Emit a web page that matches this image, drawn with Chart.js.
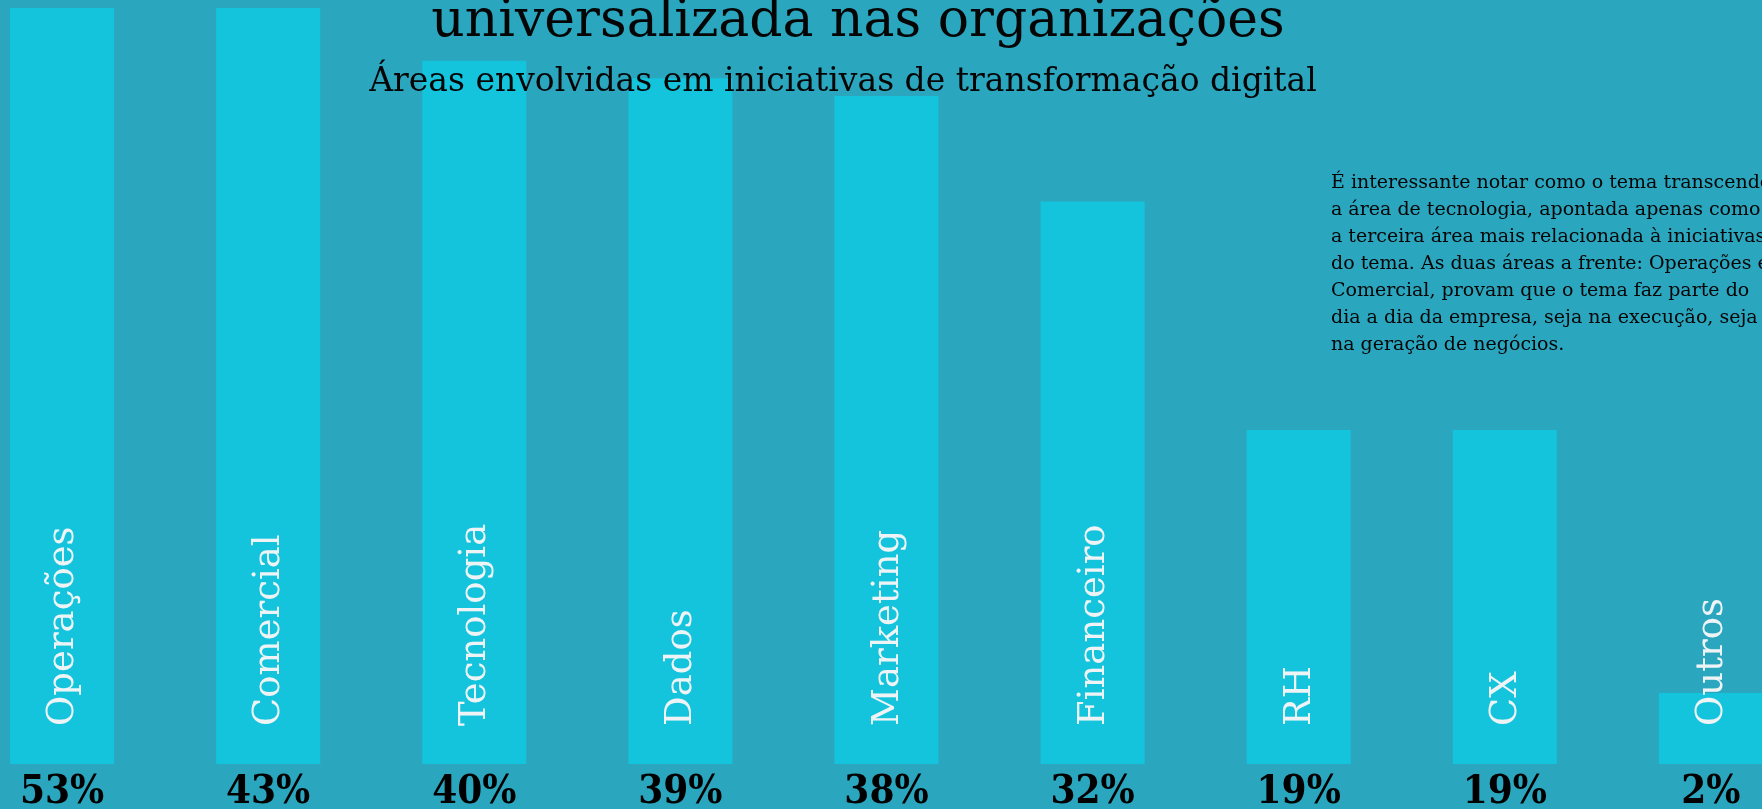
<!DOCTYPE html>
<html>
<head>
<meta charset="utf-8">
<script src="https://cdn.jsdelivr.net/npm/chart.js@4"></script>
<style>
  html, body { margin: 0; padding: 0; background: #2BA6BF; overflow: hidden; width: 1762px; height: 809px; }
  #wrap { position: absolute; left: -41px; top: 0; width: 1855px; height: 809px; }
</style>
</head>
<body>
<div id="wrap"><canvas id="c"></canvas></div>
<script>
const categories = ['Operações', 'Comercial', 'Tecnologia', 'Dados', 'Marketing', 'Financeiro', 'RH', 'CX', 'Outros'];
const shares = [53, 43, 40, 39, 38, 32, 19, 19, 2];
const tickLabels = ['53%', '43%', '40%', '39%', '38%', '32%', '19%', '19%', '2%'];
const titleLine = 'universalizada nas organizações';
const subtitleLine = 'Áreas envolvidas em iniciativas de transformação digital';
const noteLines = [
  'É interessante notar como o tema transcende',
  'a área de tecnologia, apontada apenas como',
  'a terceira área mais relacionada à iniciativas',
  'do tema. As duas áreas a frente: Operações e',
  'Comercial, provam que o tema faz parte do',
  'dia a dia da empresa, seja na execução, seja',
  'na geração de negócios.'
];

const OFFSET = 41; // canvas starts 41px left of the page

const textPlugin = {
  id: 'textPlugin',
  afterDatasetsDraw(chart) {
    const ctx = chart.ctx;
    const meta = chart.getDatasetMeta(0);
    ctx.save();
    // category names inside bars
    ctx.fillStyle = '#EEF4F5';
    ctx.font = '37px "DejaVu Serif"';
    ctx.textAlign = 'left';
    ctx.textBaseline = 'alphabetic';
    meta.data.forEach((bar, i) => {
      ctx.save();
      ctx.translate(bar.x + 11, chart.chartArea.bottom - 38);
      ctx.rotate(-Math.PI / 2);
      ctx.fillText(categories[i], 0, 0);
      ctx.restore();
    });
    // title
    ctx.fillStyle = '#050505';
    ctx.textAlign = 'center';
    ctx.font = '52px "DejaVu Serif"';
    ctx.fillText(titleLine, 858 + OFFSET, 36);
    ctx.font = '33px "DejaVu Serif"';
    ctx.fillText(subtitleLine, 843 + OFFSET, 91);
    // note
    ctx.textAlign = 'left';
    ctx.font = '19px "DejaVu Serif"';
    noteLines.forEach((line, i) => {
      ctx.fillText(line, 1331 + OFFSET, 188 + i * 27);
    });
    ctx.restore();
  }
};

new Chart(document.getElementById('c'), {
  type: 'bar',
  data: {
    labels: tickLabels,
    datasets: [{
      data: shares,
      backgroundColor: '#14C3DC',
      borderWidth: 0,
      barPercentage: 0.505,
      categoryPercentage: 1,
      minBarLength: 71,
      clip: 0
    }]
  },
  options: {
    responsive: true,
    maintainAspectRatio: false,
    animation: false,
    layout: { padding: { top: 8, left: 0, right: 0, bottom: 0 } },
    plugins: { legend: { display: false }, tooltip: { enabled: false }, title: { display: false } },
    scales: {
      x: {
        grid: { display: false, drawTicks: false },
        border: { display: false },
        afterFit(scale) { scale.height = 45; },
        ticks: {
          color: '#000',
          maxRotation: 0,
          autoSkip: false,
          padding: 9,
          font: { family: '"DejaVu Serif Condensed"', weight: 'bold', size: 40, lineHeight: 1.0 }
        }
      },
      y: {
        display: false,
        min: 0,
        max: 43
      }
    }
  },
  plugins: [textPlugin]
});
</script>
</body>
</html>
